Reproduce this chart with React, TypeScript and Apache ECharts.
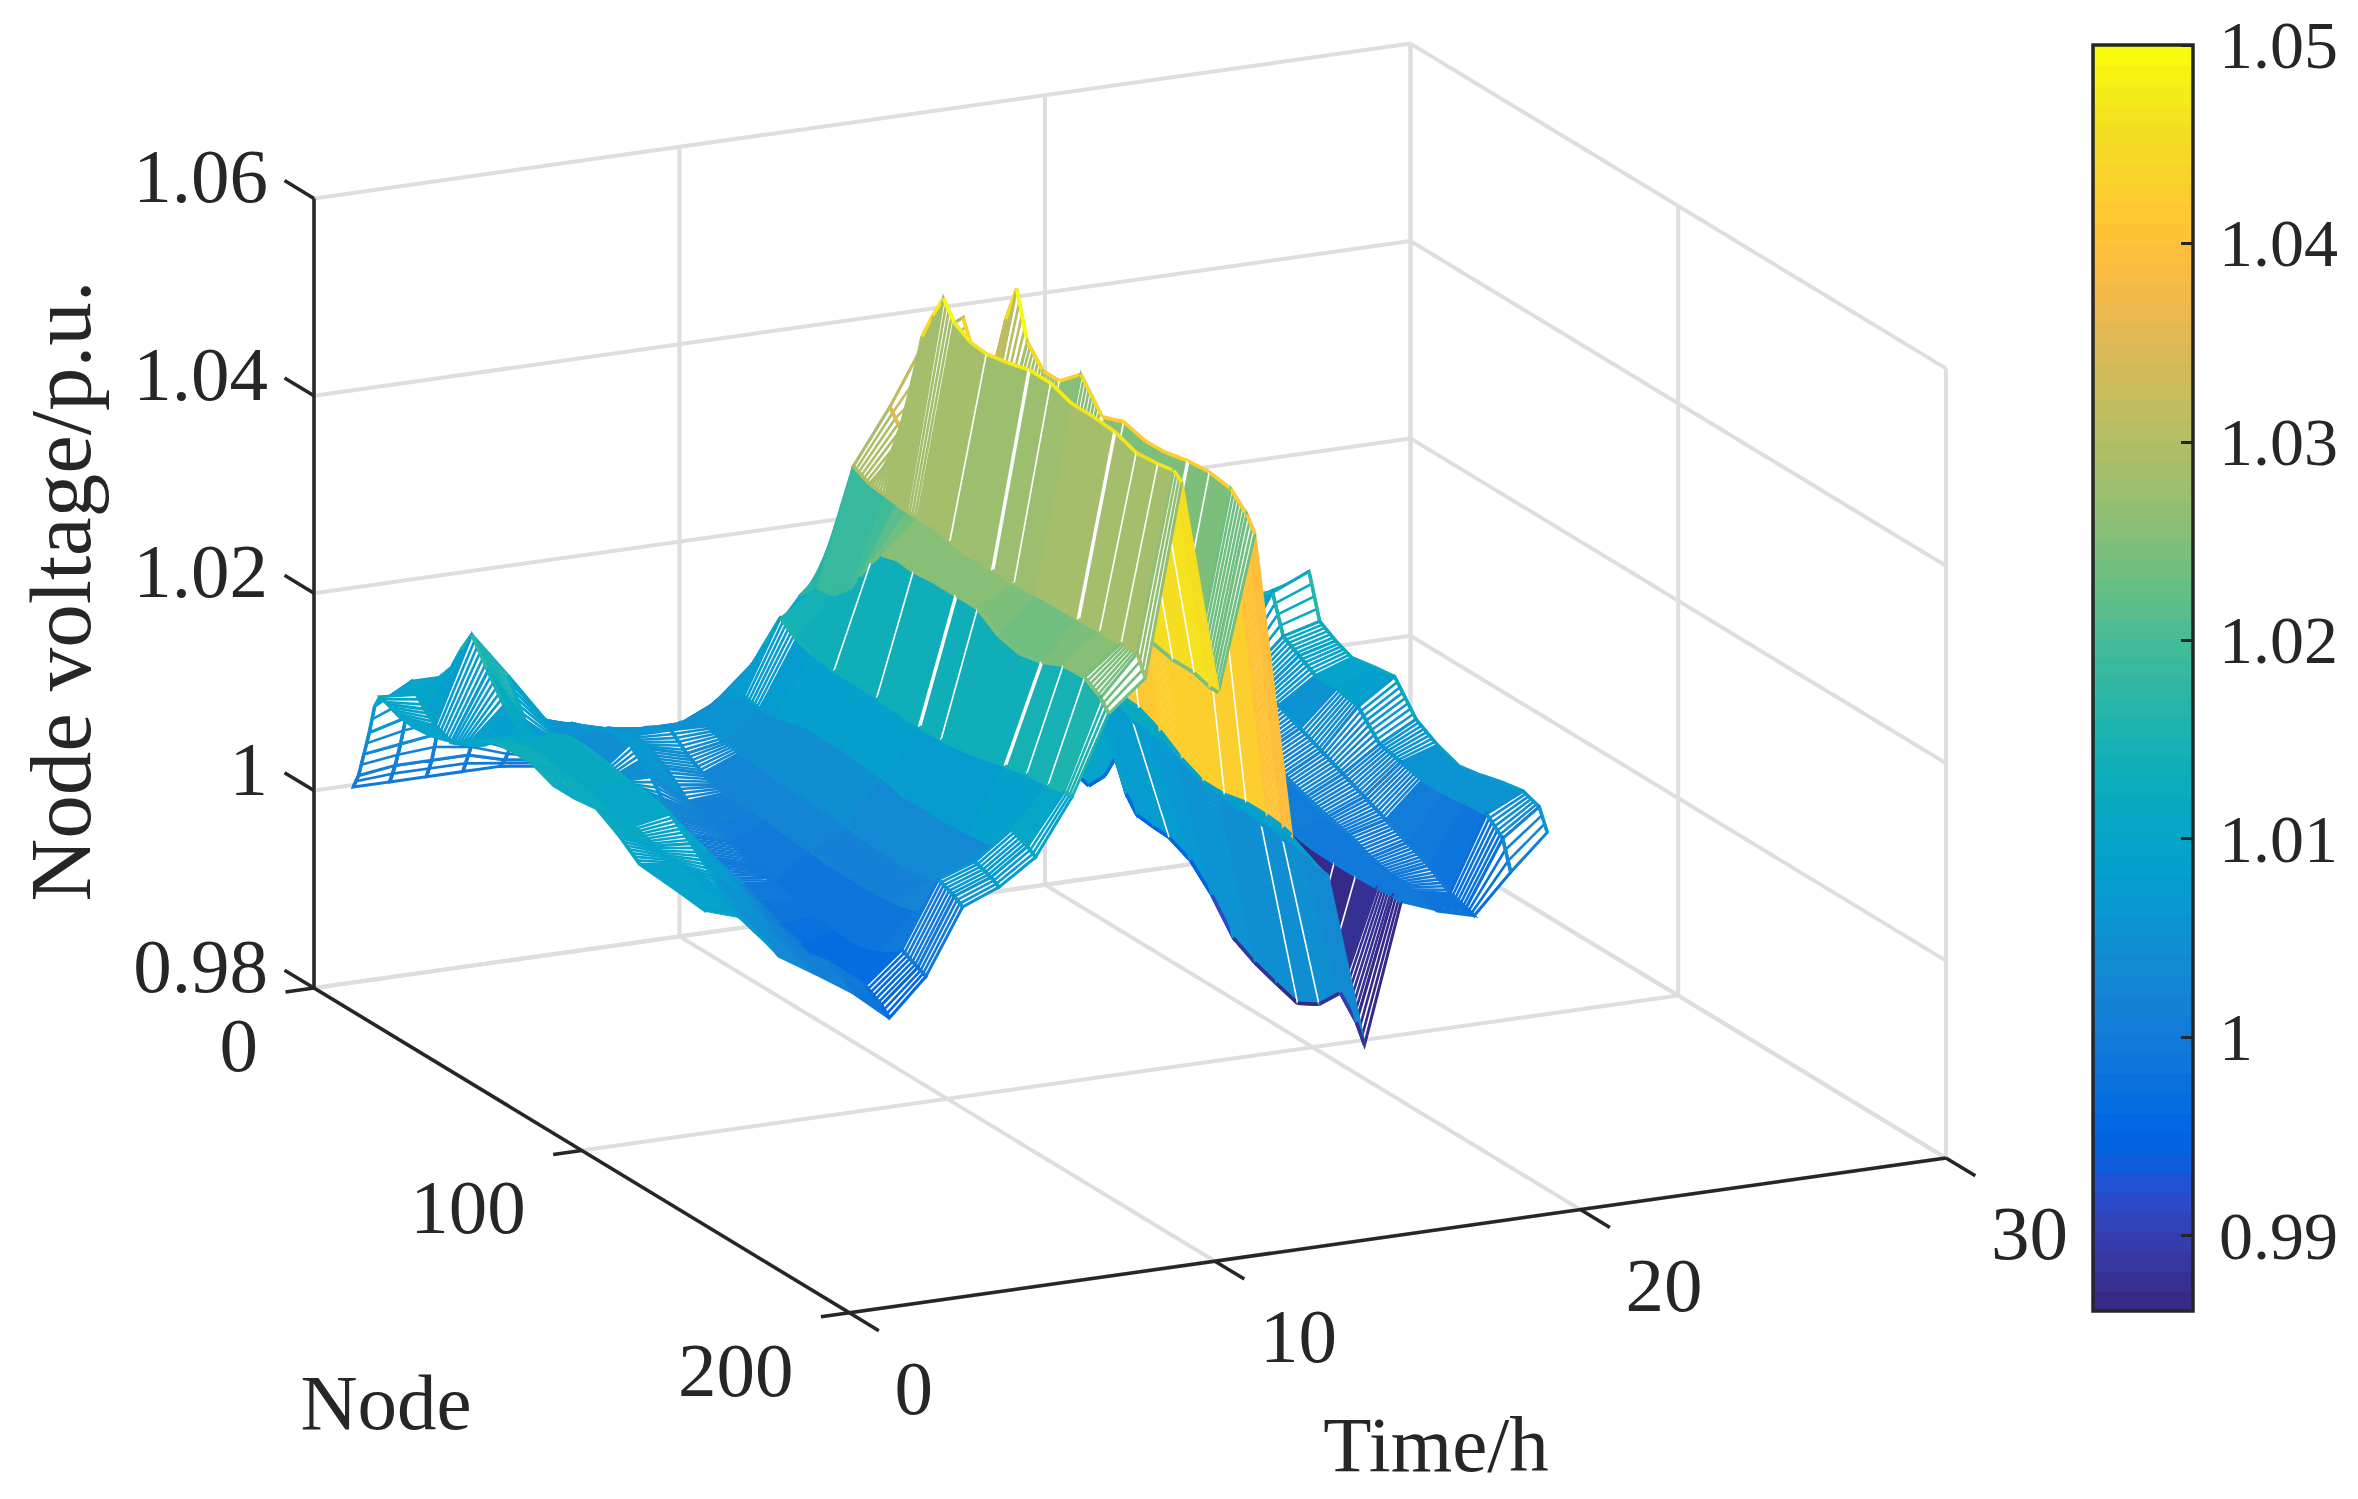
import React, { useEffect, useRef } from "react";
import * as echarts from "echarts";

const W = 2358, H = 1499;
const FONT = "Liberation Serif";
const INK = "#262626";
const GRIDC = "#dedede";

const tTicks = [0, 10, 20, 30];
const nTicks = [0, 100, 200];
const vTicks = [0.98, 1, 1.02, 1.04, 1.06];
const vTickLabels = ["0.98", "1", "1.02", "1.04", "1.06"];
const cbTicks = [0.99, 1, 1.01, 1.02, 1.03, 1.04, 1.05];
const CB_MIN = 0.9862, CB_MAX = 1.05;

const NODES = [1, 3, 5, 7, 9, 11, 14, 18, 24, 30, 36, 40, 44, 48, 54, 60, 68, 76, 84, 92, 100, 108, 116, 124, 130, 133];
const HOURS = [1, 2, 3, 4, 5, 6, 7, 8, 9, 10, 11, 12, 13, 14, 15, 16, 17, 18, 19, 20, 21, 22, 23, 24];
const SLIT_NODES = [44, 60, 76, 84, 108, 116, 124];

const h01 = [1.0, 1.0015, 1.004, 1.0065, 1.0095, 1.0108, 1.0105, 1.01, 1.0098, 1.01, 1.0105, 1.011, 1.0118, 1.0125, 1.0132, 1.0134, 1.0134, 1.0125, 1.0125, 1.0128, 1.0115, 1.0098, 1.0096, 1.0094, 1.0092, 1.0091];
const h02 = [1.0, 1.002, 1.0045, 1.0075, 1.0115, 1.0105, 1.0095, 1.0085, 1.0078, 1.0085, 1.0095, 1.0105, 1.0115, 1.012, 1.0122, 1.012, 1.012, 1.0115, 1.0105, 1.0105, 1.0098, 1.0092, 1.0088, 1.0084, 1.008, 1.0079];
const h03 = [1.0, 1.002, 1.005, 1.008, 1.0115, 1.013, 1.015, 1.0172, 1.0145, 1.012, 1.0105, 1.0105, 1.011, 1.012, 1.0128, 1.0128, 1.0125, 1.012, 1.0118, 1.0112, 1.0095, 1.0075, 1.0055, 1.0045, 1.004, 1.0035];
const h04 = [1.0, 1.002, 1.004, 1.0065, 1.009, 1.0105, 1.0115, 1.0125, 1.009, 1.0075, 1.0075, 1.0078, 1.0082, 1.009, 1.009, 1.0085, 1.0085, 1.008, 1.0075, 1.007, 1.006, 1.0045, 1.003, 1.002, 1.0015, 1.0012];
const h05 = [1.0, 1.001, 1.0025, 1.004, 1.0055, 1.0065, 1.007, 1.0076, 1.006, 1.005, 1.0045, 1.0048, 1.0055, 1.006, 1.0055, 1.005, 1.0045, 1.004, 1.0035, 1.003, 1.0015, 1.0005, 0.9999, 1.0004, 0.9995, 0.9988];
const h06 = [0.9995, 1.0005, 1.0015, 1.003, 1.004, 1.005, 1.006, 1.0064, 1.007, 1.0077, 1.0075, 1.0065, 1.0055, 1.004, 1.003, 1.002, 1.001, 1.0, 0.9995, 0.9985, 0.9978, 0.997, 0.9965, 0.9975, 0.9965, 0.9957];
const h07 = [0.9995, 1.0, 1.001, 1.002, 1.003, 1.004, 1.005, 1.0055, 1.0059, 1.0055, 1.0045, 1.0035, 1.0025, 1.002, 1.0015, 1.001, 1.0, 0.9995, 0.999, 0.9988, 0.9986, 0.9985, 0.9992, 1.0006, 0.9998, 0.9994];
const h08 = [1.0, 1.0006, 1.0012, 1.002, 1.0028, 1.0035, 1.0045, 1.0052, 1.0059, 1.0045, 1.0035, 1.003, 1.0028, 1.0028, 1.0028, 1.0026, 1.0024, 1.0022, 1.002, 1.002, 1.002, 1.0022, 1.0028, 1.0072, 1.0065, 1.0059];
const h09 = [1.0, 1.0008, 1.0015, 1.0022, 1.003, 1.0035, 1.0045, 1.0052, 1.0058, 1.0052, 1.005, 1.005, 1.0048, 1.0047, 1.0046, 1.0045, 1.0044, 1.0042, 1.004, 1.0038, 1.0036, 1.004, 1.0048, 1.0085, 1.0079, 1.0074];
const h10 = [1.0, 1.001, 1.002, 1.003, 1.004, 1.005, 1.0062, 1.0072, 1.0083, 1.008, 1.0082, 1.0085, 1.0088, 1.009, 1.009, 1.009, 1.0088, 1.0085, 1.008, 1.008, 1.008, 1.0082, 1.0085, 1.0112, 1.0105, 1.0099];
const h11 = [1.0, 1.0015, 1.003, 1.0045, 1.006, 1.0075, 1.0095, 1.012, 1.0157, 1.0145, 1.014, 1.0138, 1.0136, 1.0136, 1.0136, 1.0135, 1.0133, 1.0132, 1.0132, 1.0135, 1.014, 1.0145, 1.015, 1.0152, 1.0155, 1.0155];
const h12 = [1.0, 1.002, 1.004, 1.006, 1.008, 1.0105, 1.0135, 1.0165, 1.0183, 1.0185, 1.02, 1.022, 1.024, 1.0255, 1.026, 1.0258, 1.026, 1.026, 1.026, 1.0245, 1.024, 1.0245, 1.0255, 1.0256, 1.0245, 1.0234];
const h13 = [1.0, 1.002, 1.004, 1.0065, 1.009, 1.011, 1.0146, 1.0198, 1.03, 1.0292, 1.029, 1.0288, 1.0287, 1.0287, 1.0288, 1.0283, 1.028, 1.028, 1.028, 1.0282, 1.0283, 1.0283, 1.0284, 1.0285, 1.0285, 1.0265];
const h14 = [1.0, 1.0025, 1.005, 1.008, 1.012, 1.016, 1.0205, 1.0285, 1.0355, 1.033, 1.0446, 1.0474, 1.0498, 1.048, 1.047, 1.0468, 1.0472, 1.0478, 1.0478, 1.047, 1.047, 1.0468, 1.046, 1.0462, 1.0465, 1.0458];
const h15 = [1.0, 1.002, 1.005, 1.008, 1.012, 1.016, 1.02, 1.03, 1.0419, 1.03, 1.031, 1.0315, 1.032, 1.031, 1.029, 1.027, 1.026, 1.026, 1.0255, 1.025, 1.025, 1.025, 1.0245, 1.0245, 1.024, 1.024];
const h16 = [1.0, 1.0025, 1.005, 1.008, 1.012, 1.016, 1.02, 1.032, 1.0435, 1.039, 1.04, 1.046, 1.0497, 1.045, 1.043, 1.043, 1.045, 1.042, 1.0428, 1.0422, 1.0423, 1.0428, 1.043, 1.0426, 1.041, 1.0395];
const h17 = [1.0, 1.001, 1.002, 1.003, 1.0045, 1.006, 1.008, 1.01, 1.012, 1.0135, 1.014, 1.014, 1.014, 1.0135, 1.013, 1.0125, 1.0122, 1.012, 1.011, 1.0095, 1.0085, 1.0085, 1.009, 1.009, 1.0088, 1.0085];
const h18 = [0.9995, 1.0, 1.0015, 1.0025, 1.0035, 1.0045, 1.006, 1.0072, 1.0085, 1.0095, 1.01, 1.0098, 1.0095, 1.0085, 1.008, 1.0075, 1.0072, 1.007, 1.006, 1.0055, 1.005, 1.005, 1.0048, 1.0045, 1.004, 1.0038];
const h19 = [0.9985, 0.9985, 0.998, 0.9975, 0.997, 0.9968, 0.9965, 0.9962, 0.996, 0.9955, 0.9975, 1.0, 0.997, 0.9955, 0.9953, 0.9952, 0.9942, 0.992, 0.989, 0.9878, 0.987, 0.9863, 0.9875, 0.99, 0.988, 0.9862];
const h20 = [1.0, 1.0008, 1.002, 1.003, 1.004, 1.005, 1.0058, 1.0062, 1.0065, 1.0068, 1.0075, 1.008, 1.0055, 1.0045, 1.004, 1.003, 1.002, 1.0015, 1.001, 1.0005, 1.0001, 1.0, 1.0, 1.0001, 1.0003, 1.0001];
const h21 = [1.0, 1.0008, 1.002, 1.003, 1.0042, 1.005, 1.006, 1.0065, 1.007, 1.0078, 1.0085, 1.0095, 1.0065, 1.0055, 1.005, 1.0045, 1.004, 1.003, 1.0022, 1.0015, 1.001, 1.0, 0.9995, 0.9992, 0.999, 0.9987];
const h22 = [1.0, 1.001, 1.0025, 1.0035, 1.0048, 1.0058, 1.0068, 1.0078, 1.0085, 1.0095, 1.0105, 1.012, 1.009, 1.008, 1.0075, 1.007, 1.006, 1.005, 1.004, 1.003, 1.002, 1.001, 1.0, 0.9985, 0.998, 0.9977];
const h23 = [1.0, 1.0012, 1.0028, 1.0042, 1.0055, 1.0068, 1.008, 1.009, 1.01, 1.0115, 1.013, 1.0145, 1.0153, 1.0115, 1.0105, 1.0095, 1.0095, 1.009, 1.0065, 1.006, 1.0055, 1.0055, 1.0058, 1.006, 1.0045, 1.0016];
const h24 = [1.0, 1.0012, 1.003, 1.0045, 1.006, 1.007, 1.0085, 1.0095, 1.0105, 1.012, 1.014, 1.0155, 1.0169, 1.0125, 1.0115, 1.0108, 1.0112, 1.0115, 1.0085, 1.0072, 1.0064, 1.0068, 1.0074, 1.0078, 1.0072, 1.0051];
const VOLT = [h01, h02, h03, h04, h05, h06, h07, h08, h09, h10, h11, h12, h13, h14, h15, h16, h17, h18, h19, h20, h21, h22, h23, h24];

const PARULA = [
  [0.2081, 0.1663, 0.5292], [0.2116, 0.1898, 0.5777], [0.2123, 0.2138, 0.627], [0.2081, 0.2386, 0.6771], [0.1959, 0.2645, 0.7279], [0.1707, 0.2919, 0.7792], [0.1253, 0.3242, 0.8303], [0.0591, 0.3598, 0.8683],
  [0.0117, 0.3875, 0.882], [0.006, 0.4086, 0.8828], [0.0165, 0.4266, 0.8786], [0.0329, 0.443, 0.872], [0.0498, 0.4586, 0.8641], [0.0629, 0.4737, 0.8554], [0.0723, 0.4887, 0.8467], [0.0779, 0.504, 0.8384],
  [0.0793, 0.52, 0.8312], [0.0749, 0.5375, 0.8263], [0.0641, 0.557, 0.824], [0.0488, 0.5772, 0.8228], [0.0343, 0.5966, 0.8199], [0.0265, 0.6137, 0.8135], [0.0239, 0.6287, 0.8038], [0.0231, 0.6418, 0.7913],
  [0.0228, 0.6535, 0.7768], [0.0267, 0.6642, 0.7607], [0.0384, 0.6743, 0.7436], [0.059, 0.6838, 0.7254], [0.0843, 0.6928, 0.7062], [0.1133, 0.7015, 0.6859], [0.1453, 0.7098, 0.6646], [0.1801, 0.7177, 0.6424],
  [0.2178, 0.725, 0.6193], [0.2586, 0.7317, 0.5954], [0.3022, 0.7376, 0.5712], [0.3482, 0.7424, 0.5473], [0.3953, 0.7459, 0.5244], [0.442, 0.7481, 0.5033], [0.4871, 0.7491, 0.484], [0.53, 0.7491, 0.4661],
  [0.5709, 0.7485, 0.4494], [0.6099, 0.7473, 0.4337], [0.6473, 0.7456, 0.4188], [0.6834, 0.7435, 0.4044], [0.7184, 0.7411, 0.3905], [0.7525, 0.7384, 0.3768], [0.7858, 0.7356, 0.3633], [0.8185, 0.7327, 0.3498],
  [0.8507, 0.7299, 0.336], [0.8824, 0.7274, 0.3217], [0.9139, 0.7258, 0.3063], [0.945, 0.7261, 0.2886], [0.9739, 0.7314, 0.2666], [0.9938, 0.7455, 0.2403], [0.999, 0.7653, 0.2164], [0.9955, 0.7861, 0.1967],
  [0.988, 0.8066, 0.1794], [0.9789, 0.8271, 0.1633], [0.9697, 0.8481, 0.1475], [0.9626, 0.8705, 0.1309], [0.9589, 0.8949, 0.1132], [0.9598, 0.9218, 0.0948], [0.9661, 0.9514, 0.0755], [0.9763, 0.9831, 0.0538],
].map((c) => `rgb(${Math.round(c[0] * 255)},${Math.round(c[1] * 255)},${Math.round(c[2] * 255)})`);

const colorOf = (v: number) => {
  const i = Math.floor(((v - CB_MIN) / (CB_MAX - CB_MIN)) * PARULA.length);
  return PARULA[Math.max(0, Math.min(PARULA.length - 1, i))];
};

// MATLAB-style orthographic box: three axis scales combined into one screen mapping.
const O = { x: 314, y: 988 };
const T_V = { x: 36.55, y: -5.16 };
const N_V = { x: 2.677, y: 1.624 };
const V_PX = 9870;
const project = (t: number, n: number, v: number): [number, number] => [
  O.x + t * T_V.x + n * N_V.x,
  O.y + t * T_V.y + n * N_V.y - (v - 0.98) * V_PX,
];
const PERP = [5.16 / 36.91, 36.55 / 36.91];

const line = (a: number[], b: number[], stroke: string, lineWidth: number, z = 0) => ({
  type: "line",
  z,
  silent: true,
  shape: { x1: a[0], y1: a[1], x2: b[0], y2: b[1] },
  style: { stroke, lineWidth },
});
const label = (text: string, x: number, y: number, size: number, align: string, rotation = 0) => ({
  type: "text",
  z: 5,
  silent: true,
  x,
  y,
  rotation,
  style: { text, x: 0, y: 0, font: `${size}px "${FONT}"`, fill: INK, align, verticalAlign: "middle" },
});

function boxGraphics() {
  const g: any[] = [];
  const vLo = 0.98, vHi = 1.06, tHi = 30, nHi = 200;
  for (const t of tTicks) {
    g.push(line(project(t, 0, vLo), project(t, nHi, vLo), GRIDC, 4));
    g.push(line(project(t, 0, vLo), project(t, 0, vHi), GRIDC, 4));
  }
  for (const n of nTicks) {
    g.push(line(project(0, n, vLo), project(tHi, n, vLo), GRIDC, 4));
    g.push(line(project(tHi, n, vLo), project(tHi, n, vHi), GRIDC, 4));
  }
  for (const v of vTicks) {
    g.push(line(project(0, 0, v), project(tHi, 0, v), GRIDC, 4));
    g.push(line(project(tHi, 0, v), project(tHi, nHi, v), GRIDC, 4));
  }
  g.push(line(project(0, 0, vLo), project(0, 0, vHi), INK, 3.5, 2));
  g.push(line(project(0, 0, vLo), project(0, nHi, vLo), INK, 3.5, 2));
  g.push(line(project(0, nHi, vLo), project(tHi, nHi, vLo), INK, 3.5, 2));
  vTicks.forEach((v, i) => {
    g.push(line(project(0, 0, v), project(0, -11, v), INK, 3.5, 2));
    const p = project(0, 0, v);
    g.push(label(vTickLabels[i], p[0] - 46, p[1] - 22, 77, "right"));
  });
  nTicks.forEach((n) => {
    const p = project(0, n, vLo);
    g.push(line(p, project(-0.78, n, vLo), INK, 3.5, 2));
    g.push(label(String(n), p[0] - 56, p[1] + 57, 77, "right"));
  });
  tTicks.forEach((t) => {
    const p = project(t, nHi, vLo);
    g.push(line(p, project(t, nHi + 11, vLo), INK, 3.5, 2));
    g.push(label(String(t), p[0] + 45, p[1] + 75, 77, "left"));
  });
  g.push(label("Node", 386, 1402, 79, "center"));
  g.push(label("Time/h", 1436, 1444, 79, "center"));
  g.push(label("Node voltage/p.u.", 60, 591, 87, "center", Math.PI / 2));
  return g;
}

const CB = { left: 2093, top: 45, width: 100, height: 1266 };

const cellData: number[][] = [];
for (let r = 0; r < NODES.length - 1; r++) {
  for (let h = HOURS.length - 2; h >= 0; h--) cellData.push([h, r]);
}
const bandData = PARULA.map((_, i) => [
  CB_MIN + (i / PARULA.length) * (CB_MAX - CB_MIN),
  CB_MIN + ((i + 1) / PARULA.length) * (CB_MAX - CB_MIN),
  i,
]);

function renderCell(_: any, api: any) {
  const h = api.value(0), r = api.value(1);
  const t0 = HOURS[h], t1 = HOURS[h + 1], n0 = NODES[r], n1 = NODES[r + 1];
  const a = project(t0, n0, VOLT[h][r]);
  const b = project(t1, n0, VOLT[h + 1][r]);
  const c = project(t1, n1, VOLT[h + 1][r + 1]);
  const d = project(t0, n1, VOLT[h][r + 1]);
  const dn = n1 - n0;
  const sep0 = (d[0] - a[0]) * PERP[0] + (d[1] - a[1]) * PERP[1];
  const sep1 = (c[0] - b[0]) * PERP[0] + (c[1] - b[1]) * PERP[1];
  const sepPerNode = Math.abs((sep0 + sep1) / 2 / dn);
  const col = colorOf(Math.min(VOLT[h][r], VOLT[h][r + 1]));
  const open = sepPerNode > 2.8;
  const children: any[] = [
    {
      type: "polygon",
      shape: { points: [a, b, c, d] },
      style: { fill: open ? "#ffffff" : col, stroke: col, lineWidth: open ? 3 : 1 },
    },
  ];
  if (open) {
    const steps = Math.min(dn, 8);
    for (let k = 1; k < steps; k++) {
      const f = k / steps;
      children.push({
        type: "line",
        shape: { x1: a[0] + (d[0] - a[0]) * f, y1: a[1] + (d[1] - a[1]) * f, x2: b[0] + (c[0] - b[0]) * f, y2: b[1] + (c[1] - b[1]) * f },
        style: { stroke: col, lineWidth: 2.6 },
      });
    }
  }
  if (!open && SLIT_NODES.includes(n0) && Math.abs(a[1] - b[1]) > 70) {
    children.push({
      type: "line",
      shape: { x1: a[0], y1: a[1], x2: b[0], y2: b[1] },
      style: { stroke: "#ffffff", lineWidth: (n0 === 76 || n0 === 108) && t0 < 16 ? 3.5 : 1.6 },
    });
  }
  children.push({
    type: "line",
    shape: { x1: b[0], y1: b[1], x2: c[0], y2: c[1] },
    style: { stroke: colorOf(VOLT[h + 1][r]), lineWidth: 3.5 },
  });
  children.push({
    type: "line",
    shape: { x1: a[0], y1: a[1], x2: d[0], y2: d[1] },
    style: { stroke: colorOf(VOLT[h][r]), lineWidth: 3.5 },
  });
  return { type: "group", children };
}

function renderBand(_: any, api: any) {
  const p0 = api.coord([0, api.value(0)]);
  const p1 = api.coord([1, api.value(1)]);
  return {
    type: "rect",
    shape: { x: p0[0], y: p1[1], width: p1[0] - p0[0], height: p0[1] - p1[1] + 0.8 },
    style: { fill: PARULA[api.value(2)] },
  };
}

export default function App() {
  const ref = useRef<HTMLDivElement>(null);
  useEffect(() => {
    const chart = echarts.init(ref.current!, undefined, { renderer: "svg" });
    chart.setOption({
      animation: false,
      backgroundColor: "#ffffff",
      grid: { ...CB, show: false },
      xAxis: { type: "value", min: 0, max: 1, show: false },
      yAxis: {
        type: "value",
        min: CB_MIN,
        max: CB_MAX,
        position: "right",
        z: 20,
        axisLine: { show: false, onZero: false },
        splitLine: { show: false },
        axisTick: { show: true, inside: true, length: 12, customValues: cbTicks, lineStyle: { color: INK, width: 3 } },
        axisLabel: {
          show: true,
          customValues: cbTicks,
          margin: 26,
          fontFamily: FONT,
          fontSize: 68,
          color: INK,
          formatter: (v: number) => (Math.abs(v - 1) < 1e-6 ? "1" : v.toFixed(2)),
        },
      },
      graphic: {
        elements: [
          ...boxGraphics(),
          {
            type: "rect",
            z: 50,
            silent: true,
            shape: { x: CB.left, y: CB.top, width: CB.width, height: CB.height },
            style: { fill: "none", stroke: INK, lineWidth: 3.5 },
          },
        ],
      },
      series: [
        {
          type: "custom",
          coordinateSystem: "none",
          silent: true,
          clip: false,
          z: 3,
          data: cellData,
          encode: {},
          renderItem: renderCell,
        },
        {
          type: "custom",
          coordinateSystem: "cartesian2d",
          silent: true,
          z: 3,
          data: bandData,
          encode: { x: [], y: [0, 1] },
          renderItem: renderBand,
        },
      ],
    });
    return () => chart.dispose();
  }, []);
  return <div ref={ref} style={{ position: "absolute", left: 0, top: 0, width: W, height: H }} />;
}
